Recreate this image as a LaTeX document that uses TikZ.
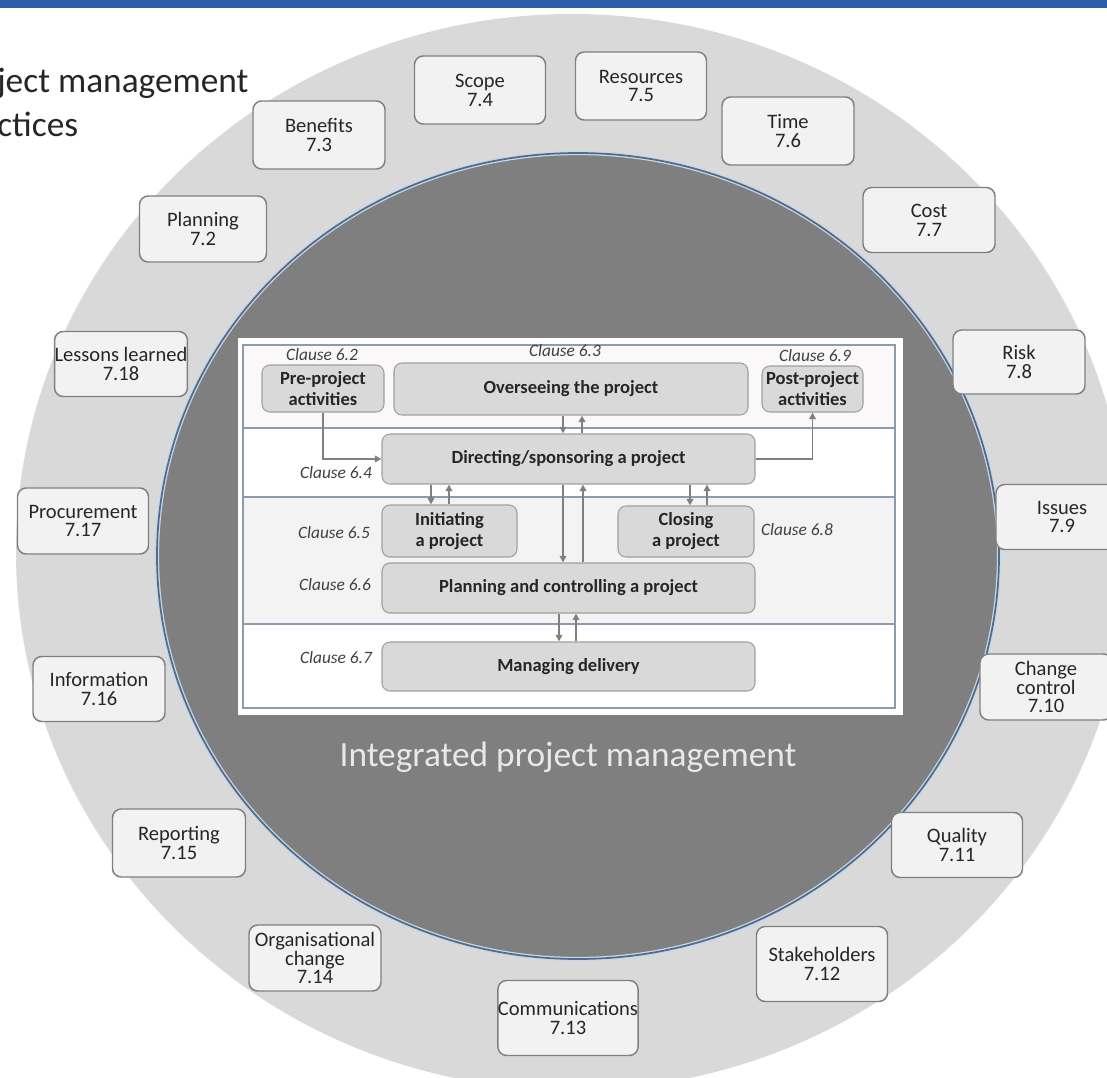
\documentclass[tikz,border=0pt]{standalone}
\usepackage{fontspec}
\setmainfont{Carlito}
\usetikzlibrary{arrows.meta}
\definecolor{topblue}{RGB}{44,94,168}
\definecolor{ringgray}{RGB}{217,217,217}
\definecolor{coregray}{RGB}{127,127,127}
\definecolor{coreedge}{RGB}{80,108,140}
\definecolor{corehalo}{RGB}{200,214,230}
\definecolor{boxfill}{RGB}{242,242,242}
\definecolor{boxedge}{RGB}{128,128,128}
\definecolor{txt}{RGB}{38,38,38}
\definecolor{panelline}{RGB}{140,155,176}
\definecolor{lanea}{RGB}{250,248,248}
\definecolor{lanec}{RGB}{243,243,243}
\definecolor{pbfill}{RGB}{217,217,217}
\definecolor{pbedge}{RGB}{160,160,160}
\definecolor{arrgray}{RGB}{128,128,128}
\definecolor{clausetxt}{RGB}{64,64,64}
\definecolor{intxt}{RGB}{232,232,232}
\begin{document}
\begin{tikzpicture}[x=0.75pt,y=-0.75pt,
  ringbox/.style={draw=boxedge, line width=1.1pt, fill=boxfill, rounded corners=6.5pt, inner sep=0pt, align=center, text=txt, font=\fontsize{15.4}{14.2}\selectfont},
  bsize/.style 2 args={minimum width=#1*0.75pt, minimum height=#2*0.75pt},
  pbox/.style={draw=pbedge, line width=0.8pt, fill=pbfill, rounded corners=6pt, inner sep=0pt, align=center, text=txt, font=\fontsize{13.9}{15.75}\selectfont\bfseries},
  clause/.style={inner sep=0pt, text=clausetxt, font=\fontsize{13}{15}\selectfont\itshape},
  arr/.style={draw=arrgray, line width=1.4pt, -{Triangle[length=5pt,width=5pt]}},
  titletext/.style={inner sep=0pt, anchor=base west, text=txt, font=\fontsize{26.5}{30}\selectfont}
]
\path[use as bounding box] (0,0) rectangle (1107,1078);
\clip (0,0) rectangle (1107,1078);
\fill[white] (0,0) rectangle (1107,1078);

% rings
\fill[ringgray] (572,552) ellipse [x radius=556, y radius=538];
\draw[corehalo, line width=3.2pt, fill=coregray] (578,556) ellipse [x radius=421, y radius=403];
\draw[coreedge, line width=1.3pt] (578,556) ellipse [x radius=421, y radius=403];

% top bar
\fill[topblue] (0,0) rectangle (1107,8);

% title
\node[titletext] (t1) at (-3,92) {ject management};
\node[titletext] (t2) at (-3,136) {ctices};

% ring boxes
\node[ringbox, bsize={132}{68}] (benefits) at (319,135) {Benefits\\7.3};
\node[ringbox, bsize={131}{68}] (scope) at (480,90) {Scope\\7.4};
\node[ringbox, bsize={131}{68}] (resources) at (641,86) {Resources\\7.5};
\node[ringbox, bsize={132}{68}] (time) at (788,131) {Time\\7.6};
\node[ringbox, bsize={127}{66}] (planning) at (203,229) {Planning\\7.2};
\node[ringbox, bsize={132}{65}] (cost) at (929,220) {Cost\\7.7};
\node[ringbox, bsize={132}{65}] (lessons) at (121,364) {Lessons learned\\7.18};
\node[ringbox, bsize={132}{64}] (risk) at (1019,362) {Risk\\7.8};
\node[ringbox, bsize={131}{66}] (procure) at (83,521) {Procurement\\7.17};
\node[ringbox, bsize={132}{65}] (issues) at (1062,517) {Issues\\7.9};
\node[ringbox, bsize={132}{65}] (info) at (99,689) {Information\\7.16};
\node[ringbox, bsize={132}{66}] (change) at (1046,687) {Change\\control\\7.10};
\node[ringbox, bsize={133}{68}] (report) at (179,843) {Reporting\\7.15};
\node[ringbox, bsize={131}{65}] (quality) at (957,845) {Quality\\7.11};
\node[ringbox, bsize={132}{66}] (orgchange) at (315,958) {Organisational\\change\\7.14};
\node[ringbox, bsize={131}{75}] (stake) at (822,964) {Stakeholders\\7.12};
\node[ringbox, bsize={132}{75}] (comms) at (568,1018) {Communications\\7.13};

% core label
\node[inner sep=0pt, text=intxt, font=\fontsize{26.5}{30}\selectfont] (core) at (568,757) {Integrated project management};

% panel
\fill[white] (238,338) rectangle (903,715);
\fill[lanea] (243,345) rectangle (895,428);
\fill[lanec] (243,497) rectangle (895,624);
\draw[panelline, line width=0.8pt] (243,345) rectangle (895,708);
\draw[panelline, line width=0.8pt] (243,428) -- (895,428);
\draw[panelline, line width=0.8pt] (243,497) -- (895,497);
\draw[panelline, line width=0.8pt] (243,624) -- (895,624);

% panel boxes
\node[pbox, bsize={122}{47}] (pre) at (323,388.5) {Pre-project\\activities};
\node[pbox, bsize={354}{52}] (over) at (571,389) {Overseeing the project};
\node[pbox, bsize={101}{46}] (post) at (812.5,389) {Post-project\\activities};
\node[pbox, bsize={373}{50}] (dir) at (568.5,459) {Directing/sponsoring a project};
\node[pbox, bsize={135}{52}] (init) at (449.5,531) {Initiating\\a project};
\node[pbox, bsize={136}{51}] (close) at (686,531.5) {Closing\\a project};
\node[pbox, bsize={373}{50}] (plan) at (568.5,588) {Planning and controlling a project};
\node[pbox, bsize={373}{49}] (manage) at (568.5,666.5) {Managing delivery};

% clause labels
\node[clause] (c62) at (322,355) {Clause 6.2};
\node[clause] (c63) at (565,351) {Clause 6.3};
\node[clause] (c69) at (815,356) {Clause 6.9};
\node[clause] (c64) at (336,473) {Clause 6.4};
\node[clause] (c65) at (334,533) {Clause 6.5};
\node[clause] (c66) at (335,585) {Clause 6.6};
\node[clause] (c67) at (336,658) {Clause 6.7};
\node[clause] (c68) at (797,530) {Clause 6.8};

% arrow columns
\coordinate (xa) at (563,0);
\coordinate (xb) at (582,0);
\coordinate (xc) at (431,0);
\coordinate (xd) at (449,0);
\coordinate (xe) at (583,0);
\coordinate (xf) at (690,0);
\coordinate (xg) at (707,0);
\coordinate (xh) at (559,0);
\coordinate (xi) at (576,0);

% connectors
\draw[arr] (pre.south) |- (dir.west);
\draw[arr] (dir.east) -| (post.south);
\draw[arr] (over.south -| xa) -- (dir.north -| xa);
\draw[arr] (dir.north -| xb) -- (over.south -| xb);
\draw[arr] (dir.south -| xc) -- (init.north -| xc);
\draw[arr] (init.north -| xd) -- (dir.south -| xd);
\draw[arr] (dir.south -| xa) -- (plan.north -| xa);
\draw[arr] (plan.north -| xe) -- (dir.south -| xe);
\draw[arr] (dir.south -| xf) -- (close.north -| xf);
\draw[arr] (close.north -| xg) -- (dir.south -| xg);
\draw[arr] (plan.south -| xh) -- (manage.north -| xh);
\draw[arr] (manage.north -| xi) -- (plan.south -| xi);
\end{tikzpicture}
\end{document}
